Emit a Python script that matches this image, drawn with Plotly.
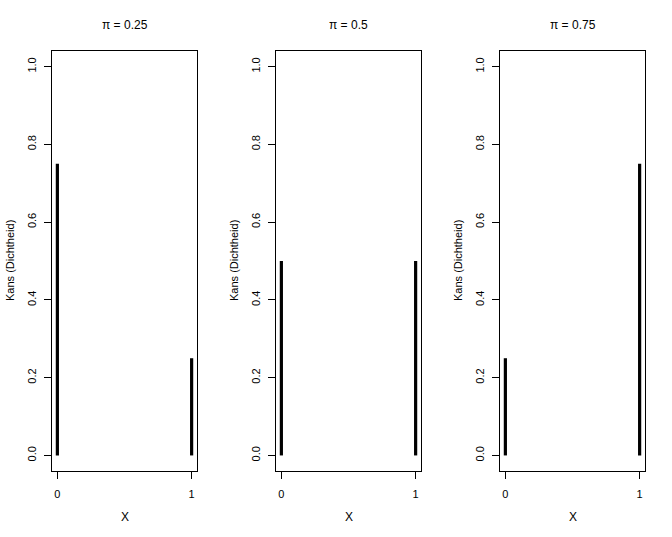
import plotly.graph_objects as go

# Data
pi_values = [0.25, 0.5, 0.75]
titles = ["π = 0.25", "π = 0.5", "π = 0.75"]
x_values = [0, 1]
prob_x0 = [0.75, 0.5, 0.25]
prob_x1 = [0.25, 0.5, 0.75]
y_ticks = [0.0, 0.2, 0.4, 0.6, 0.8, 1.0]
y_ticklabels = ["0.0", "0.2", "0.4", "0.6", "0.8", "1.0"]
x_ticks = [0, 1]
x_ticklabels = ["0", "1"]

W, H = 672, 537
lefts = [52, 276, 500]
box_w = 145
top, bottom = 51, 471

fig = go.Figure()
font = dict(family="Liberation Sans, Arial, sans-serif", size=11, color="black")

for i in range(3):
    xs, ys = [], []
    for xv, pv in zip(x_values, [prob_x0[i], prob_x1[i]]):
        xs += [xv, xv, None]
        ys += [0, pv, None]
    fig.add_trace(go.Scatter(
        x=xs, y=ys, mode="lines",
        line=dict(color="black", width=3.2),
        xaxis=f"x{i+1}" if i else "x", yaxis=f"y{i+1}" if i else "y",
        showlegend=False, hoverinfo="skip"))
    xd = [lefts[i] / W, (lefts[i] + box_w) / W]
    yd = [1 - bottom / H, 1 - top / H]
    xkey = f"xaxis{i+1}" if i else "xaxis"
    ykey = f"yaxis{i+1}" if i else "yaxis"
    fig.layout[xkey] = dict(
        domain=xd, range=[-0.04, 1.04], anchor=f"y{i+1}" if i else "y",
        showline=True, mirror=True, linecolor="black", linewidth=1,
        showgrid=False, zeroline=False, automargin=False,
        tickmode="array", tickvals=x_ticks, ticktext=x_ticklabels,
        ticks="outside", ticklen=7, tickwidth=1, tickcolor="black",
        tickfont=font, ticklabelstandoff=6)
    fig.layout[ykey] = dict(
        domain=yd, range=[-0.04, 1.04], anchor=f"x{i+1}" if i else "x",
        showline=True, mirror=True, linecolor="black", linewidth=1,
        showgrid=False, zeroline=False, automargin=False,
        tickmode="array", tickvals=y_ticks, ticktext=y_ticklabels,
        ticks="outside", ticklen=7, tickwidth=1, tickcolor="black",
        tickangle=-90, tickfont=font, ticklabelstandoff=4)
    cx = (lefts[i] + box_w / 2) / W
    fig.add_annotation(x=cx, y=1 - 25 / H, xref="paper", yref="paper",
                       xanchor="center", yanchor="middle",
                       text=titles[i], showarrow=False,
                       font=dict(family=font["family"], size=12, color="black"))
    fig.add_annotation(x=cx, y=1 - 517 / H, xref="paper", yref="paper",
                       xanchor="center", yanchor="middle",
                       text="X", showarrow=False,
                       font=dict(family=font["family"], size=12, color="black"))
    fig.add_annotation(x=(lefts[i] - 42) / W, y=1 - (top + bottom) / 2 / H,
                       xref="paper", yref="paper",
                       xanchor="center", yanchor="middle",
                       text="Kans (Dichtheid)", showarrow=False, textangle=-90,
                       font=dict(family=font["family"], size=11, color="black"))

fig.update_layout(width=W, height=H, margin=dict(l=0, r=0, t=0, b=0, autoexpand=False),
                  plot_bgcolor="white", paper_bgcolor="white", hovermode=False)
fig.write_html("out.html", config={"displayModeBar": False, "staticPlot": True},
               post_script="document.body.style.margin='0';document.body.style.padding='0';")
